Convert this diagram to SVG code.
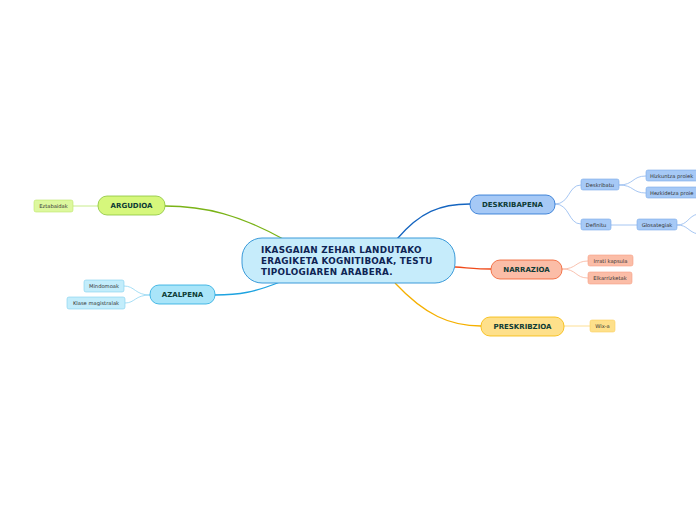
<svg xmlns="http://www.w3.org/2000/svg" width="696" height="520" viewBox="0 0 696 520">
<style>
.main{font-family:"DejaVu Sans",Verdana,sans-serif;font-weight:bold;font-size:7px;fill:#0d3b35;text-anchor:middle;dominant-baseline:central}
.sub{font-family:"DejaVu Sans",Verdana,sans-serif;font-size:5.2px;fill:#333;text-anchor:middle;dominant-baseline:central}
.c{fill:none}
</style>
<rect width="696" height="520" fill="#fff"/>
<g id="connectors">
<path class="c" d="M285,240 C240,215 205,206 165,206" stroke="#7ab317" stroke-width="1.3"/>
<path class="c" d="M73,206 L98,206" stroke="#c8ec8c" stroke-width="1"/>
<path class="c" d="M280,282 C255,292 240,295 215,295" stroke="#1ea3e0" stroke-width="1.3"/>
<path class="c" d="M150,295 C135,295 135,286 124,286" stroke="#8fd6f2" stroke-width="0.8"/>
<path class="c" d="M150,295 C135,295 135,303 125,303" stroke="#8fd6f2" stroke-width="0.8"/>
<path class="c" d="M397,239 C420,212 440,204 470,204" stroke="#1565c0" stroke-width="1.3"/>
<path class="c" d="M555,204 C570,204 568,185 581,185" stroke="#8fb8ef" stroke-width="0.8"/>
<path class="c" d="M555,204 C570,204 568,224 581,224" stroke="#8fb8ef" stroke-width="0.8"/>
<path class="c" d="M619,185 C634,185 632,176 646,176" stroke="#8fb8ef" stroke-width="0.8"/>
<path class="c" d="M619,185 C634,185 632,193 646,193" stroke="#8fb8ef" stroke-width="0.8"/>
<path class="c" d="M611,225 L637,225" stroke="#8fb8ef" stroke-width="0.8"/>
<path class="c" d="M677,225 C688,225 688,216 698,214" stroke="#8fb8ef" stroke-width="0.8"/>
<path class="c" d="M677,225 C688,225 688,232 698,234" stroke="#8fb8ef" stroke-width="0.8"/>
<path class="c" d="M455,267 C470,268 478,269 491,269" stroke="#f04a1a" stroke-width="1.3"/>
<path class="c" d="M562,269 C577,269 575,261 588,261" stroke="#f8b29c" stroke-width="0.8"/>
<path class="c" d="M562,269 C577,269 575,278 588,278" stroke="#f8b29c" stroke-width="0.8"/>
<path class="c" d="M395,283 C425,315 450,326 481,326" stroke="#f5b000" stroke-width="1.3"/>
<path class="c" d="M564,326 L590,326" stroke="#fcd77a" stroke-width="0.8"/>
</g>
<g id="central">
<rect x="242" y="238" width="213" height="45" rx="20" fill="#c6ecfb" stroke="#3a9ad9" stroke-width="1"/>
<text font-family="DejaVu Sans,Verdana,sans-serif" font-weight="bold" font-size="8.8" letter-spacing="0.25" fill="#0e2454">
<tspan x="261" y="253">IKASGAIAN ZEHAR LANDUTAKO</tspan>
<tspan x="261" y="264">ERAGIKETA KOGNITIBOAK, TESTU</tspan>
<tspan x="261" y="275">TIPOLOGIAREN ARABERA.</tspan>
</text>
</g>
<g id="argudioa">
<rect x="98" y="196" width="67" height="19" rx="9" fill="#d6f77c" stroke="#8ac43a" stroke-width="0.8"/>
<text class="main" x="131.5" y="205.5">ARGUDIOA</text>
</g>
<g id="eztabaidak">
<rect x="34" y="200" width="39" height="12" rx="2" fill="#ddf89e" stroke="#bde56a" stroke-width="0.6"/>
<text class="sub" x="53.5" y="206">Eztabaidak</text>
</g>
<g id="azalpena">
<rect x="150" y="285" width="65" height="19" rx="9" fill="#a9e5f9" stroke="#25a9e0" stroke-width="0.8"/>
<text class="main" x="182.5" y="294.5">AZALPENA</text>
</g>
<g id="mindomoak">
<rect x="84" y="280" width="40" height="12" rx="2" fill="#c3edfb" stroke="#7fd0ef" stroke-width="0.6"/>
<text class="sub" x="104" y="286">Mindomoak</text>
</g>
<g id="klase">
<rect x="67" y="297" width="58" height="12" rx="2" fill="#c3edfb" stroke="#7fd0ef" stroke-width="0.6"/>
<text class="sub" x="96" y="303">Klase magistralak</text>
</g>
<g id="deskribapena">
<rect x="470" y="195" width="85" height="19" rx="9" fill="#a6c9f6" stroke="#1f6fd1" stroke-width="0.8"/>
<text class="main" x="512.5" y="204.5">DESKRIBAPENA</text>
</g>
<g id="deskribatu">
<rect x="581" y="179" width="38" height="11" rx="2" fill="#a6c9f6" stroke="#7aa9ea" stroke-width="0.6"/>
<text class="sub" x="600" y="184.5">Deskribatu</text>
</g>
<g id="definitu">
<rect x="581" y="219" width="30" height="11" rx="2" fill="#a6c9f6" stroke="#7aa9ea" stroke-width="0.6"/>
<text class="sub" x="596" y="224.5">Definitu</text>
</g>
<g id="hizkuntza">
<rect x="646" y="170" width="60" height="11" rx="2" fill="#a6c9f6" stroke="#7aa9ea" stroke-width="0.6"/>
<text class="sub" x="650" y="175.5" style="text-anchor:start">Hizkuntza proiek</text>
</g>
<g id="hezkidetza">
<rect x="646" y="187" width="60" height="11" rx="2" fill="#a6c9f6" stroke="#7aa9ea" stroke-width="0.6"/>
<text class="sub" x="650" y="192.5" style="text-anchor:start">Hezkidetza proie</text>
</g>
<g id="glosategiak">
<rect x="637" y="219" width="40" height="11" rx="2" fill="#a6c9f6" stroke="#7aa9ea" stroke-width="0.6"/>
<text class="sub" x="657" y="224.5">Glosategiak</text>
</g>
<g id="narrazioa">
<rect x="491" y="260" width="71" height="19" rx="9" fill="#fbbda7" stroke="#f05a2a" stroke-width="0.8"/>
<text class="main" x="526.5" y="269.5">NARRAZIOA</text>
</g>
<g id="irrati">
<rect x="588" y="255" width="45" height="11" rx="2" fill="#fbbda7" stroke="#f6a085" stroke-width="0.6"/>
<text class="sub" x="610.5" y="260.5">Irrati kapsula</text>
</g>
<g id="elkarrizketak">
<rect x="588" y="272" width="44" height="12" rx="2" fill="#fbbda7" stroke="#f6a085" stroke-width="0.6"/>
<text class="sub" x="610" y="278">Elkarrizketak</text>
</g>
<g id="preskribzioa">
<rect x="481" y="317" width="83" height="19" rx="9" fill="#fee08b" stroke="#f5b800" stroke-width="0.8"/>
<text class="main" x="522.5" y="326.5">PRESKRIBZIOA</text>
</g>
<g id="wixa">
<rect x="590" y="320" width="25" height="12" rx="2" fill="#fee08b" stroke="#fbd060" stroke-width="0.6"/>
<text class="sub" x="602.5" y="326">Wix-a</text>
</g>
</svg>
